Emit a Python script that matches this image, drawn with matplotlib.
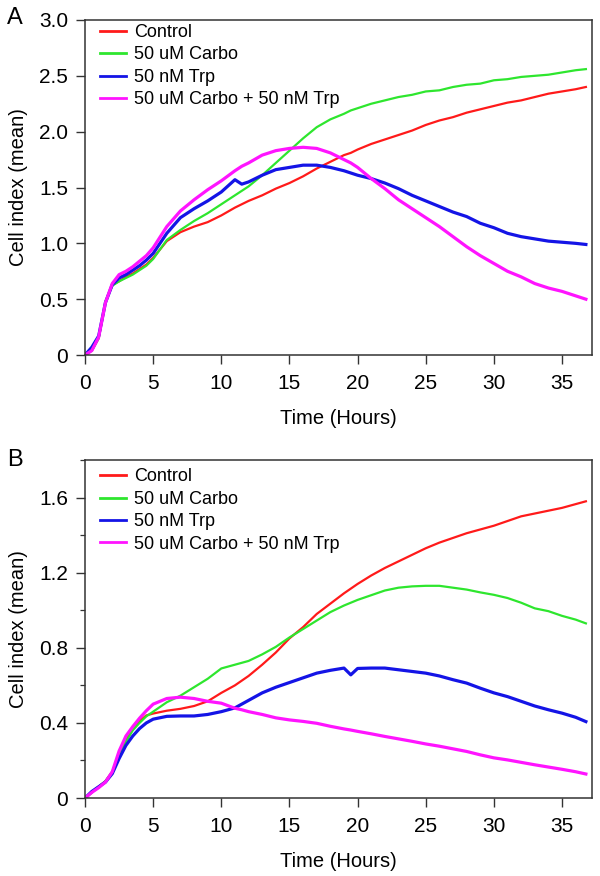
"""Cell index (xCELLigence) time courses, panels A and B."""
import matplotlib
matplotlib.use("Agg")
import matplotlib.pyplot as plt
from matplotlib.ticker import MultipleLocator, FuncFormatter

plt.rcParams["font.family"] = ["Liberation Sans", "DejaVu Sans"]

# ── Data ─────────────────────────────────────────────────────────────────
HOURS = [0, 0.5, 1, 1.5, 2, 2.5, 3, 3.5, 4, 4.5, 5, 6, 7, 8, 9, 10, 11, 11.5,
         12, 13, 14, 15, 16, 17, 18, 19, 19.5, 20, 21, 22, 23, 24, 25, 26,
         27, 28, 29, 30, 31, 32, 33, 34, 35, 36, 36.75]

LABELS = ["Control", "50 uM Carbo", "50 nM Trp", "50 uM Carbo + 50 nM Trp"]

# panel A
A_CONTROL = [0, 0.04, 0.15, 0.47, 0.63, 0.66, 0.70, 0.73, 0.77, 0.81, 0.87,
             1.02, 1.10, 1.15, 1.19, 1.25, 1.32, 1.35, 1.38, 1.43, 1.49, 1.54,
             1.60, 1.67, 1.73, 1.79, 1.81, 1.84, 1.89, 1.93, 1.97, 2.01, 2.06,
             2.10, 2.13, 2.17, 2.20, 2.23, 2.26, 2.28, 2.31, 2.34, 2.36, 2.38,
             2.40]
A_CARBO = [0, 0.04, 0.15, 0.48, 0.62, 0.66, 0.69, 0.72, 0.76, 0.80, 0.86,
           1.03, 1.12, 1.20, 1.27, 1.35, 1.43, 1.47, 1.51, 1.61, 1.72, 1.83,
           1.94, 2.04, 2.11, 2.16, 2.19, 2.21, 2.25, 2.28, 2.31, 2.33, 2.36,
           2.37, 2.40, 2.42, 2.43, 2.46, 2.47, 2.49, 2.50, 2.51, 2.53, 2.55,
           2.56]
A_TRP = [0, 0.07, 0.17, 0.47, 0.63, 0.69, 0.72, 0.76, 0.80, 0.85, 0.91,
         1.09, 1.23, 1.31, 1.38, 1.46, 1.57, 1.53, 1.55, 1.61, 1.66, 1.68,
         1.70, 1.70, 1.68, 1.65, 1.63, 1.61, 1.58, 1.54, 1.49, 1.43, 1.38,
         1.33, 1.28, 1.24, 1.18, 1.14, 1.09, 1.06, 1.04, 1.02, 1.01, 1.00,
         0.99]
A_COMBO = [0, 0.04, 0.16, 0.47, 0.64, 0.72, 0.75, 0.79, 0.84, 0.89, 0.96,
           1.15, 1.29, 1.39, 1.48, 1.56, 1.65, 1.69, 1.72, 1.79, 1.83, 1.85,
           1.86, 1.85, 1.81, 1.75, 1.72, 1.68, 1.58, 1.49, 1.39, 1.31, 1.23,
           1.15, 1.06, 0.97, 0.89, 0.82, 0.75, 0.70, 0.64, 0.60, 0.57, 0.53,
           0.50]

# panel B
B_CONTROL = [0, 0.03, 0.06, 0.09, 0.14, 0.23, 0.31, 0.37, 0.41, 0.44, 0.45,
             0.465, 0.475, 0.49, 0.515, 0.56, 0.60, 0.625, 0.65, 0.71, 0.775,
             0.85, 0.91, 0.98, 1.035, 1.09, 1.115, 1.14, 1.185, 1.225, 1.26,
             1.295, 1.33, 1.36, 1.385, 1.41, 1.43, 1.45, 1.475, 1.50, 1.515,
             1.53, 1.545, 1.565, 1.58]
B_CARBO = [0, 0.03, 0.06, 0.09, 0.14, 0.22, 0.30, 0.36, 0.40, 0.435, 0.46,
           0.51, 0.545, 0.59, 0.635, 0.69, 0.71, 0.72, 0.73, 0.765, 0.805,
           0.855, 0.90, 0.945, 0.99, 1.025, 1.04, 1.055, 1.08, 1.105, 1.12,
           1.127, 1.13, 1.13, 1.12, 1.11, 1.095, 1.082, 1.065, 1.04, 1.01,
           0.995, 0.97, 0.95, 0.93]
B_TRP = [0, 0.035, 0.06, 0.085, 0.13, 0.21, 0.28, 0.33, 0.37, 0.40, 0.42,
         0.435, 0.437, 0.437, 0.445, 0.46, 0.48, 0.50, 0.52, 0.56, 0.59,
         0.615, 0.64, 0.665, 0.68, 0.692, 0.656, 0.69, 0.692, 0.692, 0.683,
         0.674, 0.665, 0.65, 0.63, 0.612, 0.585, 0.56, 0.54, 0.515, 0.49,
         0.47, 0.452, 0.43, 0.407]
B_COMBO = [0, 0.03, 0.055, 0.085, 0.14, 0.25, 0.33, 0.38, 0.425, 0.465, 0.50,
           0.53, 0.537, 0.53, 0.515, 0.505, 0.478, 0.47, 0.46, 0.445, 0.427,
           0.416, 0.408, 0.398, 0.382, 0.368, 0.362, 0.355, 0.342, 0.328,
           0.315, 0.302, 0.288, 0.276, 0.262, 0.248, 0.23, 0.214, 0.203, 0.19,
           0.177, 0.165, 0.153, 0.14, 0.128]

COLORS = ["#ff1a1a", "#2ee62e", "#1414e6", "#ff14ff"]
WIDTHS = [1.6, 1.6, 2.3, 2.3]

fig = plt.figure(figsize=(6.0, 8.76), dpi=100)
ax_a = fig.add_axes([0.1417, 0.5947, 0.845, 0.3825])
ax_b = fig.add_axes([0.1417, 0.0890, 0.845, 0.3859])


def zero_fmt(v, _pos):
    return "0" if abs(v) < 1e-9 else f"{v:.1f}"


def draw(ax, series, ylim, ystep, legend_y, minor=None):
    for vals, lab, col, lw in zip(series, LABELS, COLORS, WIDTHS):
        ax.plot(HOURS, vals, color=col, lw=lw, label=lab)
    ax.set_xlim(0, 37.2)
    ax.set_ylim(*ylim)
    ax.xaxis.set_major_locator(MultipleLocator(5))
    ax.yaxis.set_major_locator(MultipleLocator(ystep))
    ax.yaxis.set_major_formatter(FuncFormatter(zero_fmt))
    if minor:
        ax.yaxis.set_minor_locator(MultipleLocator(minor))
        ax.tick_params(axis="y", which="minor", direction="out", length=3.5,
                       width=0.9, color="#333333")
    ax.tick_params(which="major", direction="out", length=6.5, width=1,
                   color="#333333", labelsize=15)
    ax.tick_params(axis="x", which="major", pad=7)
    ax.tick_params(axis="y", which="major", pad=5.5)
    for sp in ax.spines.values():
        sp.set_color("#333333")
        sp.set_linewidth(1.1)
    ax.set_xlabel("Time (Hours)", fontsize=14.5, labelpad=12)
    ax.set_ylabel("Cell index (mean)", fontsize=14.5, labelpad=8)
    leg = ax.legend(loc="upper left", bbox_to_anchor=(0.03, legend_y),
                    frameon=False, fontsize=13, handlelength=1.4,
                    handletextpad=0.45, labelspacing=0.3, borderpad=0,
                    borderaxespad=0)
    for h in leg.get_lines():
        h.set_linewidth(2.0)


draw(ax_a, [A_CONTROL, A_CARBO, A_TRP, A_COMBO], (0, 3.0), 0.5, 0.988)
draw(ax_b, [B_CONTROL, B_CARBO, B_TRP, B_COMBO], (0, 1.8), 0.4, 0.975,
     minor=0.2)

fig.text(0.012, 0.979, "A", fontsize=17, va="center", ha="left")
fig.text(0.012, 0.475, "B", fontsize=17, va="center", ha="left")

fig.savefig("out.png", dpi=100)
